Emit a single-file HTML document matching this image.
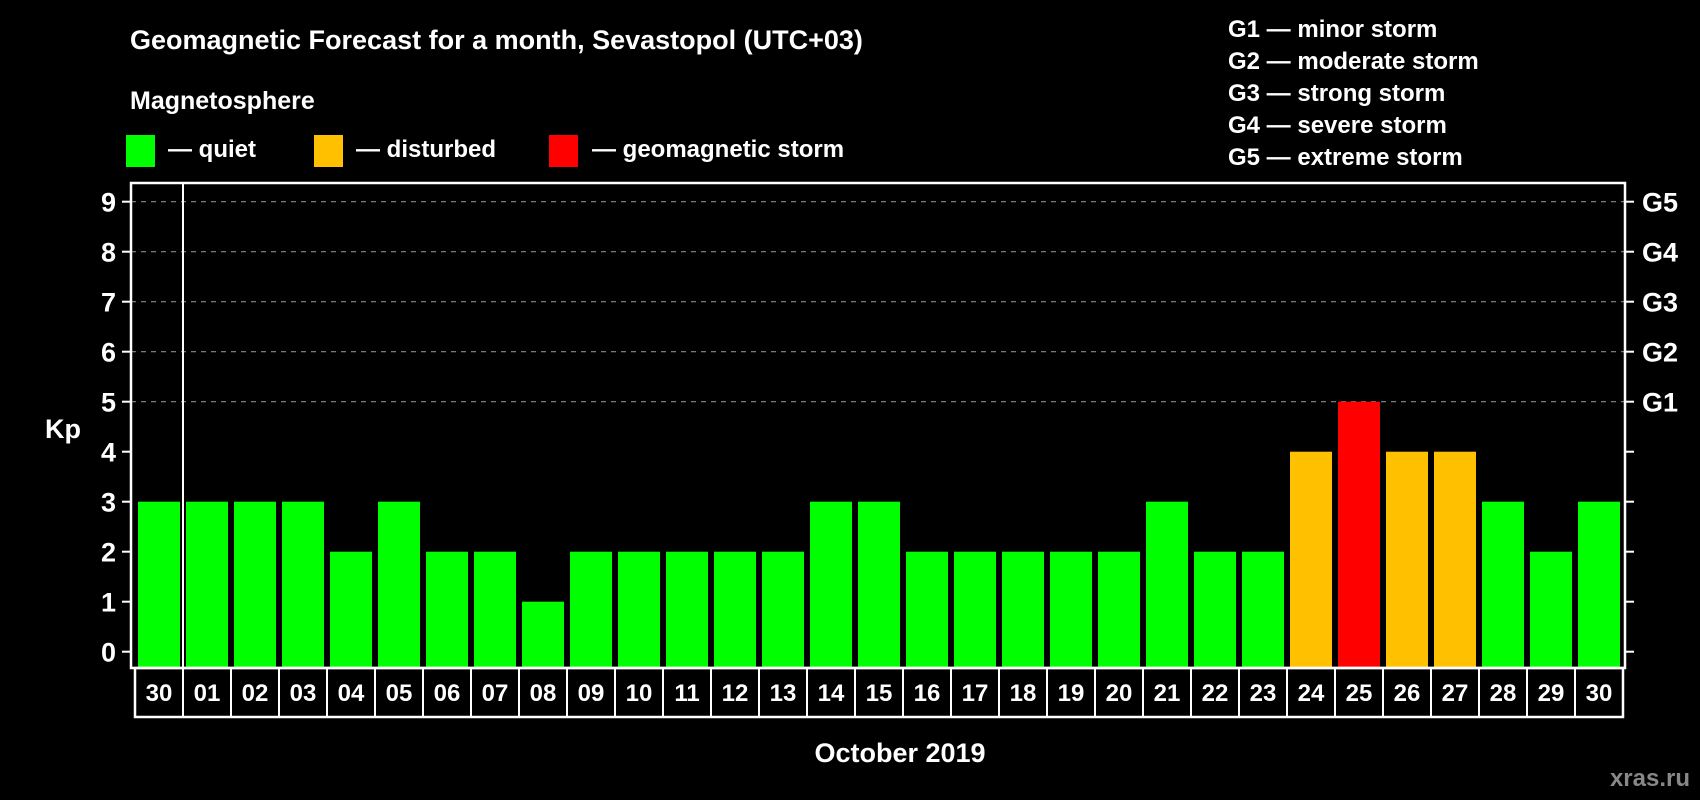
<!DOCTYPE html>
<html><head><meta charset="utf-8"><style>
html,body{margin:0;padding:0;background:#000;}
svg{display:block;font-family:"Liberation Sans",Arial,sans-serif;font-weight:bold;}
</style></head><body>
<svg id="chart" width="1700" height="800" viewBox="0 0 1700 800" xmlns="http://www.w3.org/2000/svg">
<rect x="0" y="0" width="1700" height="800" fill="#000"/>
<text x="130" y="49" font-size="27" fill="#fff">Geomagnetic Forecast for a month, Sevastopol (UTC+03)</text>
<text x="130" y="109" font-size="25" fill="#fff">Magnetosphere</text>
<g><rect x="126" y="135" width="29" height="32" fill="#00ff00"/><text x="168" y="157" font-size="24" fill="#fff">— quiet</text></g>
<g><rect x="314" y="135" width="29" height="32" fill="#ffc000"/><text x="356" y="157" font-size="24" fill="#fff">— disturbed</text></g>
<g><rect x="549" y="135" width="29" height="32" fill="#ff0000"/><text x="592" y="157" font-size="24" fill="#fff">— geomagnetic storm</text></g>
<g font-size="24" fill="#fff">
<text x="1228" y="37">G1 — minor storm</text>
<text x="1228" y="69">G2 — moderate storm</text>
<text x="1228" y="101">G3 — strong storm</text>
<text x="1228" y="133">G4 — severe storm</text>
<text x="1228" y="165">G5 — extreme storm</text>
</g>
<text x="63" y="438" font-size="27" fill="#fff" text-anchor="middle">Kp</text>
<text x="900" y="762" font-size="27" fill="#fff" text-anchor="middle">October 2019</text>
<text x="1690" y="786" font-size="24" fill="#888" text-anchor="end">xras.ru</text>
<g id="grid"></g><g id="bars"></g><g id="axes"></g>
</svg>
<script>
const days = ["30","01","02","03","04","05","06","07","08","09","10","11","12","13","14","15","16","17","18","19","20","21","22","23","24","25","26","27","28","29","30"];
const kpValues = [3,3,3,3,2,3,2,2,1,2,2,2,2,2,3,3,2,2,2,2,2,3,2,2,4,5,4,4,3,2,3];
const yTicks = [0,1,2,3,4,5,6,7,8,9];
const gLabels = ["G1","G2","G3","G4","G5"];
const gLevels = [5,6,7,8,9];
const NS="http://www.w3.org/2000/svg";
const plotLeft=131,plotRight=1625,plotTop=183,plotBottom=668;
const y0=651.7, perUnit=50;
const cellLeft=135, cellW=48;
function yScale(v){return y0 - v*perUnit;}
function xCell(i){return cellLeft + i*cellW;}
function colorFor(v){return v>=5?"#ff0000":(v>=4?"#ffc000":"#00ff00");}
function mk(tag,attrs,parent){const e=document.createElementNS(NS,tag);for(const k in attrs)e.setAttribute(k,attrs[k]);parent.appendChild(e);return e;}
const gridG=document.getElementById('grid'),barsG=document.getElementById('bars'),axesG=document.getElementById('axes');
gLevels.forEach((v,i)=>{
  const l=mk('line',{x1:plotLeft,x2:plotRight,y1:yScale(v),y2:yScale(v),stroke:'#8a8a8a','stroke-width':1.2,'stroke-dasharray':'5,5'},gridG);
  
  
  const t=mk('text',{x:1642,y:yScale(v)+10,'font-size':27,fill:'#fff'},axesG);t.textContent=gLabels[i];
  
  
});
kpValues.forEach((v,i)=>{
  const x=xCell(i)+3;
  const r=mk('rect',{x:x,y:yScale(v),width:42,height:plotBottom-yScale(v),fill:colorFor(v)},barsG);
  
  
});
const frame=mk('rect',{x:plotLeft,y:plotTop,width:plotRight-plotLeft,height:plotBottom-plotTop,fill:'none',stroke:'#fff','stroke-width':2.5},axesG);


const sep=mk('line',{x1:xCell(1),x2:xCell(1),y1:plotTop,y2:plotBottom,stroke:'#fff','stroke-width':2},axesG);


yTicks.forEach(v=>{
  const y=yScale(v);
  mk('line',{x1:122,x2:plotLeft,y1:y,y2:y,stroke:'#fff','stroke-width':2},axesG);
  mk('line',{x1:plotRight,x2:1634,y1:y,y2:y,stroke:'#fff','stroke-width':2},axesG);
  const t=mk('text',{x:116,y:y+10,'font-size':27,fill:'#fff','text-anchor':'end'},axesG);t.textContent=v;
  
  
});
const box=mk('rect',{x:cellLeft,y:plotBottom,width:days.length*cellW,height:717-plotBottom,fill:'none',stroke:'#fff','stroke-width':2.5},axesG);


days.forEach((d,i)=>{
  if(i>0) mk('line',{x1:xCell(i),x2:xCell(i),y1:plotBottom,y2:717,stroke:'#fff','stroke-width':2},axesG);
  const t=mk('text',{x:xCell(i)+cellW/2,y:701,'font-size':24,fill:'#fff','text-anchor':'middle'},axesG);t.textContent=d;
  
  
});
</script>
</body></html>
